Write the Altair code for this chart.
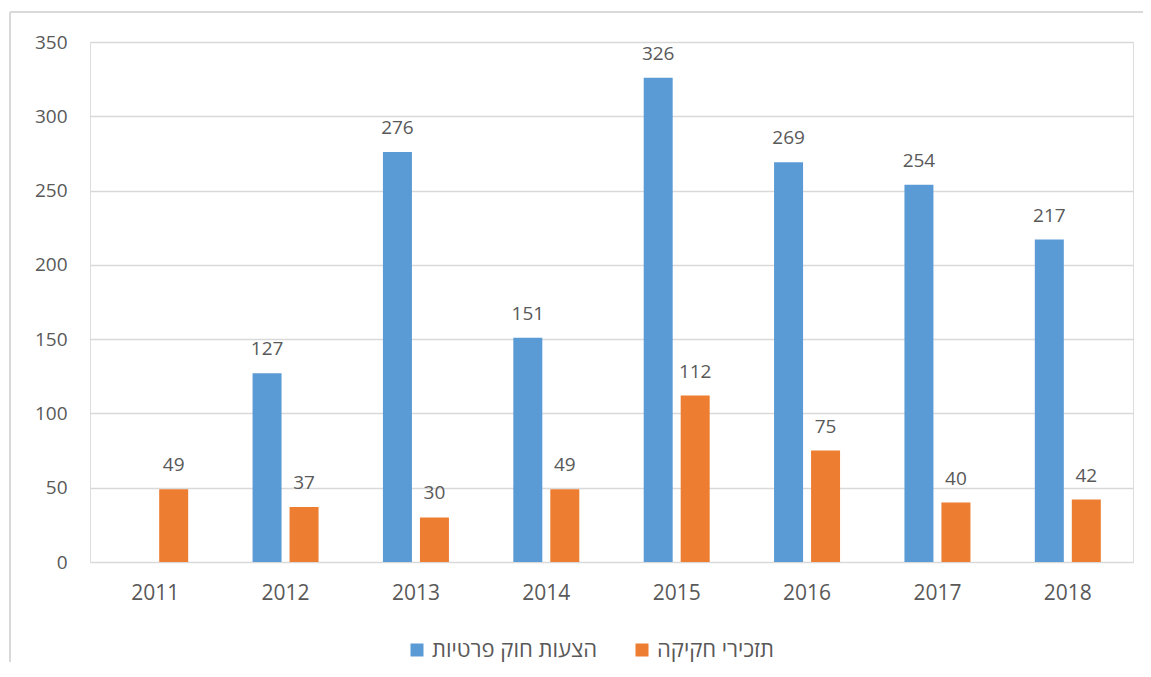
import altair as alt
import pandas as pd

years = ["2011", "2012", "2013", "2014", "2015", "2016", "2017", "2018"]
series_names = ["הצעות חוק פרטיות", "תזכירי חקיקה"]
private_bills = [None, 127, 276, 151, 326, 269, 254, 217]
memoranda = [49, 37, 30, 49, 112, 75, 40, 42]
colors = ["#5B9BD5", "#ED7D31"]

rows = []
for y, a, b in zip(years, private_bills, memoranda):
    if a is not None:
        rows.append({"year": y, "series": series_names[0], "value": a})
    if b is not None:
        rows.append({"year": y, "series": series_names[1], "value": b})
df = pd.DataFrame(rows)

FONT = "Open Sans"
TXT = "#595959"

x_enc = alt.X("year:N", sort=years, scale=alt.Scale(paddingInner=0, paddingOuter=0),
              axis=alt.Axis(title=None, labelAngle=0, labelFontSize=21, labelColor=TXT,
                            labelFont=FONT, labelPadding=20, ticks=False, domain=False,
                            grid=False))
xoff = alt.XOffset("series:N", sort=series_names,
                   scale=alt.Scale(paddingInner=0.216, paddingOuter=0.87))
y_enc = alt.Y("value:Q", scale=alt.Scale(domain=[0, 350], nice=False),
              axis=alt.Axis(title=None, values=list(range(0, 351, 50)), labelFontSize=19,
                            labelColor=TXT, labelFont=FONT, labelPadding=23, ticks=False,
                            domain=False, grid=True, gridColor="#D9D9D9", gridWidth=1.5))

base = alt.Chart(df)

bars = base.mark_bar(size=29).encode(
    x=x_enc,
    xOffset=xoff,
    y=y_enc,
    color=alt.Color("series:N", sort=series_names,
                    scale=alt.Scale(domain=series_names, range=colors),
                    legend=alt.Legend(title=None, orient="none", legendX=316, legendY=597,
                                      direction="horizontal", symbolType="square",
                                      symbolSize=169, symbolStrokeWidth=0,
                                      labelFontSize=22, labelFont=FONT, labelColor=TXT,
                                      labelOffset=4, columnPadding=33, labelLimit=0)),
)

labels = base.mark_text(baseline="alphabetic", dy=-18, fontSize=19, font=FONT, color=TXT).encode(
    x=alt.X("year:N", sort=years),
    xOffset=alt.XOffset("series:N", sort=series_names),
    y="value:Q",
    text="value:Q",
)

top_line = alt.Chart(pd.DataFrame({"a": [0]})).mark_rule(
    stroke="#D9D9D9", strokeWidth=2
).encode(x=alt.value(-80), x2=alt.value(1070), y=alt.value(-30))

left_line = alt.Chart(pd.DataFrame({"a": [0]})).mark_rule(
    stroke="#D9D9D9", strokeWidth=2
).encode(x=alt.value(-80), y=alt.value(-30), y2=alt.value(625))

chart = alt.layer(top_line, left_line, bars, labels).properties(
    width=1043, height=520,
    padding={"left": 82, "top": 34, "right": 10, "bottom": 100},
    autosize=alt.AutoSizeParams(type="none"),
).configure_view(stroke=None).configure(background="white")

chart.save("out.html", embed_options={"renderer": "svg", "actions": False})
